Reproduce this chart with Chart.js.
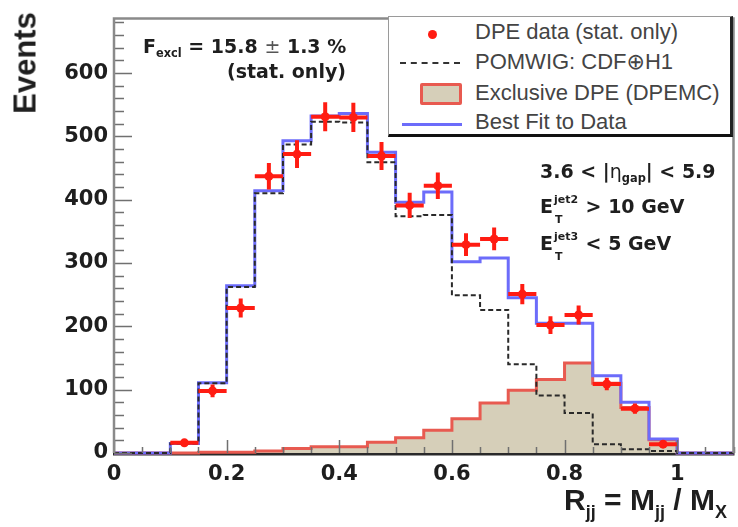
<!DOCTYPE html>
<html>
<head>
<meta charset="utf-8">
<script src="https://cdn.jsdelivr.net/npm/chart.js@4/dist/chart.umd.min.js"></script>
<style>
  html, body { margin: 0; padding: 0; background: #fff; }
  #wrap { position: relative; width: 738px; height: 527px; overflow: hidden; background: #fff; }
  #c { position: absolute; left: 0; top: 0; }
  .t { position: absolute; white-space: nowrap; line-height: 1; color: #1e1e1e; }
  .b { font-family: "DejaVu Sans", sans-serif; font-weight: bold; font-size: 19px; }
  .sub { font-size: 0.6em; vertical-align: -0.35em; line-height: 0; }
  .sym { font-family: "DejaVu Sans", sans-serif; font-weight: normal; }
  .ss { display: inline-block; position: relative; width: 26px; height: 1px; }
  .ss .up { position: absolute; left: 1px; bottom: 8px; font-size: 11px; line-height: 1; }
  .ss .dn { position: absolute; left: 2px; top: 2px; font-size: 11px; line-height: 1; }
  #legend { position: absolute; left: 388px; top: 16px; width: 345px; height: 121px;
            border: 1.5px solid #9a9a9a; border-bottom: 3px solid #111; border-right: 3px solid #222; background: #fff; box-sizing: border-box; }
  .lt { position: absolute; left: 86px; font-family: "Liberation Sans", Arial, sans-serif; font-size: 22px; color: #444; white-space: nowrap; line-height: 1; }
  .axt { position: absolute; white-space: nowrap; line-height: 1; font-family: "Liberation Sans", Arial, sans-serif; font-weight: bold; color: #1e1e1e; }
  .axt .sub { vertical-align: -0.45em; }
</style>
</head>
<body>
<div id="wrap">
  <canvas id="c" width="738" height="527"></canvas>

  <div class="axt" style="left:25px; top:63px; font-size:31px; transform: translate(-50%,-50%) rotate(-90deg);">Events</div>
  <div class="axt" style="left:564px; top:485px; font-size:30px;">R<span class="sub">jj</span> = M<span class="sub">jj</span> / M<span class="sub">X</span></div>

  <div class="t b" style="left:143px; top:37px;">F<span class="sub">excl</span> = 15.8 <span class="sym" style="color:#555">±</span> 1.3 %</div>
  <div class="t b" style="left:227px; top:62px;">(stat. only)</div>

  <div class="t b" style="left:540px; top:162px;">3.6 &lt; |<span class="sym">η</span><span class="sub">gap</span>| &lt; 5.9</div>
  <div class="t b" style="left:540px; top:197px;">E<span class="ss"><span class="up">jet2</span><span class="dn">T</span></span> &gt; 10 GeV</div>
  <div class="t b" style="left:540px; top:234px;">E<span class="ss"><span class="up">jet3</span><span class="dn">T</span></span> &lt; 5 GeV</div>

  <div id="legend">
    <div style="position:absolute; left:39px; top:13px; width:9px; height:9px; border-radius:50%; background:rgb(255,28,18);"></div>
    <div style="position:absolute; left:11px; top:45px; width:60px; height:0; border-top:2px dashed #333;"></div>
    <div style="position:absolute; left:31px; top:66px; width:42px; height:22px; box-sizing:border-box; background:rgb(214,207,185); border:3px solid rgb(232,90,80); border-radius:2px;"></div>
    <div style="position:absolute; left:13px; top:106px; width:60px; height:0; border-top:3px solid rgb(108,108,250);"></div>
    <div class="lt" style="top:4px;">DPE data (stat. only)</div>
    <div class="lt" style="top:34px;">POMWIG: CDF<span class="sym">⊕</span>H1</div>
    <div class="lt" style="top:65px;">Exclusive DPE (DPEMC)</div>
    <div class="lt" style="top:94px;">Best Fit to Data</div>
  </div>
</div>

<script>
// ---------------- data ----------------
const binEdges = [0.00, 0.05, 0.10, 0.15, 0.20, 0.25, 0.30, 0.35, 0.40, 0.45, 0.50,
                  0.55, 0.60, 0.65, 0.70, 0.75, 0.80, 0.85, 0.90, 0.95, 1.00, 1.05, 1.10];

const dpeData   = [null, null, 16, 98, 229, 437, 472, 531, 530, 469, 391, 422, 329, 338, 251, 202, 218, 109, 70, 14, null, null];
const dpeErrors = [null, null, 4, 10, 15, 21, 22, 23, 23, 22, 20, 21, 18, 18, 16, 14, 15, 10, 8, 4, null, null];

const pomwig    = [0, 0, 15, 110, 262, 410, 487, 523, 522, 459, 374, 376, 249, 226, 140, 91, 63, 14, 6, 3, 0, 0];
const dpemc     = [0, 0, 0, 1, 1, 3, 7, 10, 10, 17, 24, 36, 54, 79, 99, 116, 142, 110, 72, 21, 0, 0];
const bestFit   = [0, 0, 15, 111, 264, 414, 493, 532, 536, 475, 396, 412, 302, 308, 245, 205, 205, 122, 80, 22, 0, 0];

const xTickLabels = [0, 0.2, 0.4, 0.6, 0.8, 1];
const yTickLabels = [0, 100, 200, 300, 400, 500, 600];

// ---------------- build library datasets ----------------
function histPoints(vals) {
  const pts = vals.map((v, i) => ({ x: binEdges[i], y: v }));
  pts.push({ x: binEdges[vals.length], y: vals[vals.length - 1] });
  return pts;
}
const markerPts = [];
const errPts = [];
dpeData.forEach((v, i) => {
  if (v === null) return;
  const lo = binEdges[i], hi = binEdges[i + 1], xc = (lo + hi) / 2, e = dpeErrors[i];
  markerPts.push({ x: xc, y: v });
  errPts.push({ x: lo, y: v }, { x: hi, y: v }, { x: xc, y: null },
              { x: xc, y: v - e }, { x: xc, y: v + e }, { x: xc, y: null });
});

const RED = 'rgb(255,28,18)';
const X_MAX = 1.1, Y_MAX = 686;

const frameTicks = {
  id: 'frameTicks',
  beforeDatasetsDraw(chart) {
    const { ctx, chartArea: a } = chart;
    ctx.save();
    ctx.strokeStyle = '#2a2a2a';
    ctx.lineWidth = 3;
    ctx.beginPath();
    ctx.moveTo(a.left - 1, a.bottom + 1);
    ctx.lineTo(a.right + 1, a.bottom + 1);
    ctx.stroke();
    ctx.restore();
  },
  afterDatasetsDraw(chart) {
    const { ctx, chartArea: a, scales } = chart;
    const x = scales.x, y = scales.y;
    ctx.save();
    ctx.strokeStyle = '#707070';
    ctx.lineWidth = 1.5;
    ctx.beginPath();
    for (let v = 0; v <= Y_MAX; v += 20) {
      const py = Math.round(y.getPixelForValue(v)) + 0.5;
      const len = (v % 100 === 0) ? 18 : 10;
      ctx.moveTo(a.left, py); ctx.lineTo(a.left + len, py);
    }
    for (let k = 0; k <= 22; k++) {
      const px = Math.round(x.getPixelForValue(k * 0.05)) + 0.5;
      const len = (k % 4 === 0) ? 13 : 6;
      ctx.moveTo(px, a.bottom); ctx.lineTo(px, a.bottom - len);
    }
    ctx.stroke();
    // frame
    ctx.strokeStyle = '#8a8a8a';
    ctx.lineWidth = 2.5;
    ctx.beginPath();
    ctx.moveTo(a.left, a.bottom); ctx.lineTo(a.left, a.top);
    ctx.lineTo(a.right, a.top); ctx.lineTo(a.right, a.bottom);
    ctx.stroke();
    ctx.restore();
  }
};

new Chart(document.getElementById('c'), {
  type: 'line',
  data: {
    datasets: [
      { label: 'DPE data (stat. only)', data: markerPts, showLine: false, pointRadius: 4.5,
        pointBackgroundColor: RED, pointBorderWidth: 0, order: 0 },
      { label: 'errors', data: errPts, borderColor: RED, borderWidth: 4, pointRadius: 0,
        spanGaps: false, borderCapStyle: 'butt', order: 1 },
      { label: 'POMWIG: CDF⊕H1', data: histPoints(pomwig), stepped: true, borderColor: '#2a2a2a',
        borderWidth: 2, borderDash: [5, 3], pointRadius: 0, order: 2, clip: false },
      { label: 'Best Fit to Data', data: histPoints(bestFit), stepped: true, borderColor: 'rgb(108,108,250)',
        borderWidth: 3, pointRadius: 0, order: 3, clip: false },
      { label: 'Exclusive DPE (DPEMC)', data: histPoints(dpemc), stepped: true, borderColor: 'rgb(232,90,80)',
        borderWidth: 3, backgroundColor: 'rgb(214,207,185)', fill: 'origin', pointRadius: 0, order: 4, clip: false }
    ]
  },
  options: {
    responsive: false,
    animation: false,
    events: [],
    layout: { padding: { top: 12, right: 3, left: 0, bottom: 0 } },
    plugins: { legend: { display: false }, tooltip: { enabled: false }, title: { display: false } },
    scales: {
      x: {
        type: 'linear', min: 0, max: X_MAX,
        grid: { display: false, drawTicks: false },
        border: { display: false },
        afterFit(s) { s.height = 74; },
        afterBuildTicks(s) { s.ticks = xTickLabels.map(v => ({ value: v })); },
        ticks: {
          padding: 9, maxRotation: 0, autoSkip: false,
          color: '#1e1e1e',
          font: { family: 'DejaVu Sans', weight: 'bold', size: 21 },
          callback: v => String(Number(v.toFixed(1)))
        }
      },
      y: {
        type: 'linear', min: 0, max: Y_MAX,
        grid: { display: false, drawTicks: false },
        border: { display: false },
        afterFit(s) { s.width = 114; },
        afterBuildTicks(s) { s.ticks = yTickLabels.map(v => ({ value: v })); },
        ticks: {
          padding: 6, autoSkip: false,
          color: '#1e1e1e',
          font: { family: 'DejaVu Sans', weight: 'bold', size: 21 },
          callback: v => String(v)
        }
      }
    }
  },
  plugins: [frameTicks]
});
</script>
</body>
</html>
